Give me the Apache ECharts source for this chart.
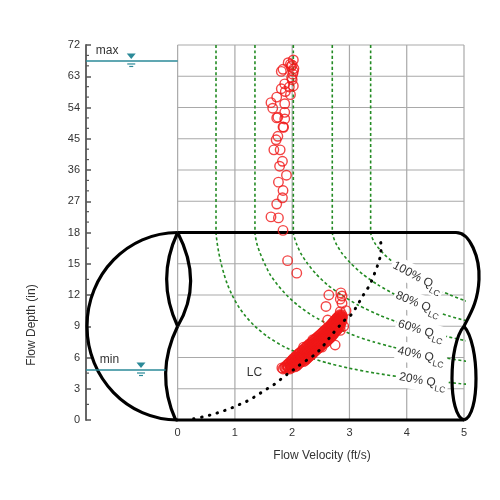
<!DOCTYPE html>
<html>
<head>
<meta charset="utf-8">
<script src="https://cdn.jsdelivr.net/npm/echarts@6/dist/echarts.min.js"></script>
<style>
html, body { margin: 0; padding: 0; background: #fff; }
#chart { width: 500px; height: 500px; }
</style>
</head>
<body>
<div id="chart"></div>
<script>
// axis ticks (depth axis is piecewise: 3 in steps below the crown, 9 in steps above)
var xTicks = [0, 1, 2, 3, 4, 5];
var yTicks = [0, 3, 6, 9, 12, 15, 18, 27, 36, 45, 54, 63, 72];
var xMin = -1.6;

// constant-flow lines [velocity, depth]
var q100 = [[3.37,72],[3.37,18],[3.44,17],[3.59,16],[3.79,15],[4.04,14],[4.36,13],[4.76,12],[5.0,11.5],[5.26,11]];
var q80 = [[2.70,72],[2.70,18],[2.76,17],[2.87,16],[3.03,15],[3.23,14],[3.49,13],[3.81,12],[4.21,11],[4.45,10.5],[4.73,10],[5.39,9]];
var q60 = [[2.02,72],[2.02,18],[2.07,17],[2.15,16],[2.27,15],[2.42,14],[2.61,13],[2.86,12],[3.16,11],[3.55,10],[4.04,9],[4.35,8.5],[4.71,8],[5.13,7.5]];
var q40 = [[1.35,72],[1.35,18],[1.38,17],[1.44,16],[1.52,15],[1.61,14],[1.74,13],[1.90,12],[2.10,11],[2.36,10],[2.70,9],[3.14,8],[3.42,7.5],[3.75,7],[4.14,6.5],[4.62,6],[5.21,5.5]];
var q20 = [[0.67,72],[0.67,18],[0.69,17],[0.72,16],[0.76,15],[0.81,14],[0.87,13],[0.95,12],[1.05,11],[1.18,10],[1.35,9],[1.57,8],[1.87,7],[2.31,6],[2.60,5.5],[2.97,5],[3.45,4.5],[4.07,4],[4.92,3.5],[5.35,3.3]];
var qNames = ['100%', '80%', '60%', '40%', '20%'];

// LC curve
var lcCurve = [[0.28,0.12],[0.44,0.3],[0.62,0.55],[0.76,0.8],[0.9,1.06],[1.02,1.35],[1.17,1.7],[1.3,2.08],[1.43,2.53],[1.56,2.98],[1.69,3.43],[1.81,3.95],[1.93,4.46],[2.03,4.85],[2.11,5.2],[2.27,5.8],[2.39,6.26],[2.51,6.9],[2.61,7.6],[2.71,8.3],[2.82,9.0],[2.91,9.55],[3.03,10.1],[3.12,10.85],[3.19,11.5],[3.27,12.25],[3.36,13.0],[3.41,13.7],[3.47,14.5],[3.51,15.2],[3.55,16.0],[3.55,16.9],[3.5,17.6]];

// measured points [velocity, depth]
var obsHigh = [[2.02,67.7],[1.93,66.9],[1.97,66.5],[2.0,66.2],[1.98,65.8],[2.03,65.2],[1.84,65.0],[1.81,64.4],[2.02,64.4],[2.01,63.6],[1.99,62.6],[2.0,62.0],[1.87,60.8],[2.02,60.2],[1.95,59.9],[1.81,59.4],[1.88,58.6],[1.97,57.7],[1.73,57.0],[1.87,55.1],[1.63,55.4],[1.66,53.8],[1.87,52.6],[1.75,51.2],[1.73,51.0],[1.87,50.7],[1.84,48.4],[1.85,48.3],[1.75,45.7],[1.72,44.7],[1.68,41.8],[1.79,41.8],[1.83,38.5],[1.78,37.1],[1.9,34.5],[1.76,32.5],[1.84,30.1],[1.83,28.0],[1.73,26.2],[1.63,22.5],[1.76,22.2],[1.84,18.6]];
var obsLow = [[1.92,15.3],[2.08,14.1],[2.64,12.0],[2.85,12.2],[2.87,11.9],[2.84,11.6],[2.59,10.9],[2.87,11.2],[2.94,10.5],[2.84,10.4],[2.12,6.4],[2.36,7.7],[2.75,7.2],[2.2,7.0],[2.52,7.0],[2.84,8.6],[2.9,9.0],[2.62,9.6],[2.0,5.7],[1.82,5.0]];
var clusterDepths = [4.9, 5.0, 5.1, 5.2, 5.3, 5.4, 5.5, 5.6, 5.7, 5.8, 5.9, 6.0, 6.1, 6.2, 6.3, 6.4, 6.5, 6.6, 6.7, 6.8, 6.9, 7.0, 7.1, 7.2, 7.3, 7.4, 7.5, 7.6, 7.7, 7.8, 7.9, 8.0, 8.1, 8.2, 8.3, 8.4, 8.5, 8.6, 8.7, 8.8, 8.9, 9.0, 9.1, 9.2, 9.3, 9.4, 9.5, 9.6, 9.7, 9.8, 9.9, 10.0, 10.1];
var clusterVel = [
  [1.84, 1.90, 1.96],
  [1.87, 1.93, 1.99],
  [1.87, 1.93, 1.99, 2.05],
  [1.90, 1.96, 2.02, 2.08],
  [1.91, 1.97, 2.03, 2.09],
  [1.94, 2.00, 2.06, 2.12],
  [1.95, 2.01, 2.07, 2.13],
  [1.98, 2.04, 2.10, 2.16, 2.20],
  [1.99, 2.05, 2.11, 2.17, 2.22],
  [2.01, 2.07, 2.13, 2.19, 2.24],
  [2.02, 2.08, 2.14, 2.20, 2.26],
  [2.05, 2.11, 2.17, 2.23, 2.28],
  [2.06, 2.12, 2.18, 2.24, 2.30],
  [2.09, 2.15, 2.21, 2.27, 2.32],
  [2.10, 2.16, 2.22, 2.28, 2.34],
  [2.13, 2.19, 2.25, 2.31, 2.36],
  [2.14, 2.20, 2.26, 2.32, 2.38],
  [2.17, 2.23, 2.29, 2.35, 2.40],
  [2.18, 2.24, 2.30, 2.36, 2.42],
  [2.21, 2.27, 2.33, 2.39, 2.44],
  [2.22, 2.28, 2.34, 2.40, 2.46],
  [2.25, 2.31, 2.37, 2.43, 2.48],
  [2.26, 2.32, 2.38, 2.44, 2.50],
  [2.29, 2.35, 2.41, 2.47, 2.52],
  [2.30, 2.36, 2.42, 2.48, 2.54],
  [2.33, 2.39, 2.45, 2.51, 2.57],
  [2.35, 2.41, 2.47, 2.53, 2.59],
  [2.37, 2.43, 2.49, 2.55, 2.61],
  [2.39, 2.45, 2.51, 2.57, 2.63],
  [2.41, 2.47, 2.53, 2.59, 2.65],
  [2.43, 2.49, 2.55, 2.61, 2.67],
  [2.45, 2.51, 2.57, 2.63, 2.68],
  [2.47, 2.53, 2.59, 2.65, 2.70],
  [2.49, 2.55, 2.61, 2.66, 2.71],
  [2.51, 2.57, 2.63, 2.68, 2.73],
  [2.53, 2.59, 2.64, 2.69, 2.74],
  [2.55, 2.61, 2.66, 2.71, 2.76],
  [2.57, 2.62, 2.67, 2.72, 2.77],
  [2.59, 2.64, 2.69, 2.74, 2.79],
  [2.61, 2.66, 2.71, 2.76, 2.80],
  [2.63, 2.68, 2.73, 2.78, 2.82],
  [2.65, 2.70, 2.75, 2.80, 2.84],
  [2.67, 2.72, 2.77, 2.81],
  [2.69, 2.74, 2.79, 2.83],
  [2.70, 2.75, 2.80, 2.84],
  [2.72, 2.77, 2.82, 2.86],
  [2.73, 2.78, 2.83, 2.87],
  [2.75, 2.80, 2.85],
  [2.77, 2.82, 2.86],
  [2.78, 2.83, 2.87],
  [2.80, 2.85, 2.88],
  [2.82, 2.86],
  [2.83, 2.87]
];

// pipe and water levels
var pipeDiameter = 18;
var pipeLength = 5;
var levelNames = ['max', 'min'];
var levelDepths = [67.4, 4.8];

// annotation placement (data units)
var levelLineEnd = [0, -0.21];
var levelMarkX = [-0.81, -0.64];
var levelTextX = [-1.43, -1.36];
var qLabelX = [4.19, 4.2, 4.25, 4.25, 4.28];
var qLabelY = [13.7, 11.15, 8.6, 6.2, 3.75];
var qLabelRot = [-28, -22, -17, -12, -10];

var font = '"Liberation Sans", Arial, sans-serif';
var teal = '#2b8a98';

function depthToAxis(d) {
  for (var i = 0; i < yTicks.length - 1; i++) {
    if (d <= yTicks[i + 1]) return i + (d - yTicks[i]) / (yTicks[i + 1] - yTicks[i]);
  }
  return yTicks.length - 1;
}
function toAxis(pts) {
  return pts.map(function (p) { return [p[0], depthToAxis(p[1])]; });
}

var obsPoints = obsHigh.concat(obsLow);
clusterDepths.forEach(function (d, i) {
  clusterVel[i].forEach(function (v) { obsPoints.push([v, d]); });
});

function renderGrid(params, api) {
  var kids = [];
  var top = yTicks.length - 1;
  xTicks.forEach(function (x) {
    var a = api.coord([x, 0]), b = api.coord([x, top]);
    kids.push({ type: 'line', shape: { x1: a[0], y1: a[1], x2: b[0], y2: b[1] }, style: { stroke: '#a9a9a9', lineWidth: 1.2 } });
  });
  yTicks.forEach(function (t, i) {
    var a = api.coord([xTicks[0], i]), b = api.coord([xTicks[xTicks.length - 1], i]);
    kids.push({ type: 'line', shape: { x1: a[0], y1: a[1], x2: b[0], y2: b[1] }, style: { stroke: '#a9a9a9', lineWidth: 1.2 } });
  });
  // minor ticks on the depth axis
  var ax = api.coord([xMin, 0])[0];
  for (var i = 0; i < yTicks.length - 1; i++) {
    var n = (yTicks[i + 1] - yTicks[i]) > 3 ? 3 : 2;
    for (var k = 1; k < n; k++) {
      var y = api.coord([xMin, i + k / n])[1];
      kids.push({ type: 'line', shape: { x1: ax, y1: y, x2: ax + 3, y2: y }, style: { stroke: '#555', lineWidth: 1.2 } });
    }
  }
  return { type: 'group', children: kids };
}

function renderPipe(params, api) {
  var x0 = api.coord([0, 0])[0], x5 = api.coord([pipeLength, 0])[0];
  var yb = api.coord([0, 0])[1];
  var yt = api.coord([0, depthToAxis(pipeDiameter)])[1];
  var ym = api.coord([0, depthToAxis(pipeDiameter / 2)])[1];
  var xl = api.coord([xMin, 0])[0] + 1;
  var rx = x0 - xl, ry = (yb - yt) / 2, k = 0.5523;
  var st = { fill: 'none', stroke: '#000', lineWidth: 3.2 };
  function p(arr) { return { type: 'path', shape: { pathData: arr.join(' ') }, style: st }; }
  return {
    type: 'group',
    children: [
      // left end
      p(['M', x0, yt, 'C', x0 - k * rx, yt, xl, ym - k * ry, xl, ym, 'C', xl, ym + k * ry, x0 - k * rx, yb, x0, yb]),
      p(['M', x0, yt, 'Q', x0 + 26, (yt + ym) / 2 + 3, x0, ym]),
      p(['M', x0, yt, 'Q', x0 - 22, (yt + ym) / 2, x0, ym]),
      p(['M', x0, ym, 'Q', x0 - 23, (ym + yb) / 2, x0 - 2, yb]),
      // body
      p(['M', x0, yt, 'L', x5 - 8, yt, 'C', x5 + 6, yt, x5 + 16, yt + 25, x5 + 15, yt + 47, 'C', x5 + 14, yt + 70, x5 + 6, ym - 12, x5, ym]),
      p(['M', x0 - 2, yb, 'L', x5, yb]),
      // right end
      p(['M', x5, ym, 'C', x5 - 16, ym + 18, x5 - 16, yb - 4, x5, yb]),
      p(['M', x5, ym, 'C', x5 + 16, ym + 18, x5 + 16, yb - 4, x5, yb])
    ]
  };
}

function renderNotes(params, api) {
  var kids = [];
  var ax = api.coord([xMin, 0])[0];
  levelNames.forEach(function (name, i) {
    var y = api.coord([0, depthToAxis(levelDepths[i])])[1];
    var xe = api.coord([levelLineEnd[i], 0])[0];
    var mx = api.coord([levelMarkX[i], 0])[0];
    var tx = api.coord([levelTextX[i], 0])[0];
    kids.push({ type: 'line', shape: { x1: ax, y1: y, x2: xe, y2: y }, style: { stroke: teal, lineWidth: 1.5 } });
    kids.push({ type: 'polygon', shape: { points: [[mx - 4.5, y - 7.5], [mx + 4.5, y - 7.5], [mx, y - 2]] }, style: { fill: teal } });
    kids.push({ type: 'line', shape: { x1: mx - 4, y1: y + 3, x2: mx + 4, y2: y + 3 }, style: { stroke: teal, lineWidth: 1.2 } });
    kids.push({ type: 'line', shape: { x1: mx - 2, y1: y + 5.5, x2: mx + 2, y2: y + 5.5 }, style: { stroke: teal, lineWidth: 1.2 } });
    kids.push({ type: 'text', x: tx, y: y - 4, style: { text: name, fill: '#333', font: '12px ' + font, align: 'left', verticalAlign: 'bottom' } });
  });
  qNames.forEach(function (name, i) {
    var pos = api.coord([qLabelX[i], depthToAxis(qLabelY[i])]);
    kids.push({
      type: 'text', x: pos[0], y: pos[1], rotation: qLabelRot[i] * Math.PI / 180,
      style: {
        text: '{a|' + name + ' Q}{b|LC}',
        align: 'center', verticalAlign: 'middle',
        backgroundColor: '#fff', padding: [0, 2],
        rich: {
          a: { fontSize: 12, fontFamily: font, fill: '#333', color: '#333', lineHeight: 20, verticalAlign: 'middle' },
          b: { fontSize: 8.5, fontFamily: font, fill: '#333', color: '#333', lineHeight: 20, verticalAlign: 'bottom' }
        }
      }
    });
  });
  var lc = api.coord([1.34, depthToAxis(4.5)]);
  kids.push({ type: 'text', x: lc[0], y: lc[1], style: { text: 'LC', fill: '#333', font: '12px ' + font, align: 'center', verticalAlign: 'middle' } });
  return { type: 'group', children: kids };
}

function qSeries(data) {
  return {
    type: 'line', data: toAxis(data), showSymbol: false, smooth: 0.2, silent: true, z: 2,
    lineStyle: { color: '#238b23', width: 1.6, type: [3, 2.5] }
  };
}

var chart = echarts.init(document.getElementById('chart'));
var option = {
  animation: false,
  backgroundColor: '#fff',
  grid: { left: 86, right: 36, top: 45, bottom: 80, outerBoundsMode: 'none' },
  xAxis: {
    type: 'value', min: xMin, max: pipeLength,
    axisLine: { show: false }, axisTick: { show: false }, splitLine: { show: false },
    axisLabel: {
      customValues: xTicks, margin: 7, fontSize: 11, color: '#333', fontFamily: font,
      formatter: function (v) { return v < 0 ? '' : v; }
    }
  },
  yAxis: {
    type: 'value', min: 0, max: yTicks.length - 1, interval: 1,
    axisLine: { show: true, onZero: false, lineStyle: { color: '#666', width: 2 } },
    axisTick: { show: true, inside: true, length: 5, lineStyle: { color: '#555', width: 1.5 } },
    splitLine: { show: false },
    axisLabel: {
      margin: 6, fontSize: 11, color: '#333', fontFamily: font,
      formatter: function (v) { return yTicks[Math.round(v)]; }
    }
  },
  graphic: [
    { type: 'text', x: 322, y: 456, style: { text: 'Flow Velocity (ft/s)', font: '12px ' + font, fill: '#333', align: 'center', verticalAlign: 'middle', textAlign: 'center', textVerticalAlign: 'middle' } },
    { type: 'text', x: 32, y: 325, rotation: Math.PI / 2, style: { text: 'Flow Depth (in)', font: '12px ' + font, fill: '#333', align: 'center', verticalAlign: 'middle', textAlign: 'center', textVerticalAlign: 'middle' } }
  ],
  series: [
    { type: 'custom', renderItem: renderGrid, data: [[0, 0]], silent: true, z: 1 },
    qSeries(q100), qSeries(q80), qSeries(q60), qSeries(q40), qSeries(q20),
    { type: 'custom', renderItem: renderPipe, data: [[0, 0]], silent: true, z: 3 },
    {
      type: 'scatter', data: toAxis(obsPoints), symbol: 'circle', symbolSize: 9.5, silent: true, z: 4,
      itemStyle: { color: 'rgba(255,255,255,0)', borderColor: '#f01818', borderWidth: 1.4 }
    },
    {
      type: 'line', data: toAxis(lcCurve), showSymbol: false, smooth: 0.3, silent: true, z: 5,
      lineStyle: { color: '#000', width: 3, type: [0.5, 7.5], cap: 'round' }
    },
    { type: 'custom', renderItem: renderNotes, data: [[0, 0]], silent: true, z: 6 }
  ]
};
chart.setOption(option);
</script>
</body>
</html>
